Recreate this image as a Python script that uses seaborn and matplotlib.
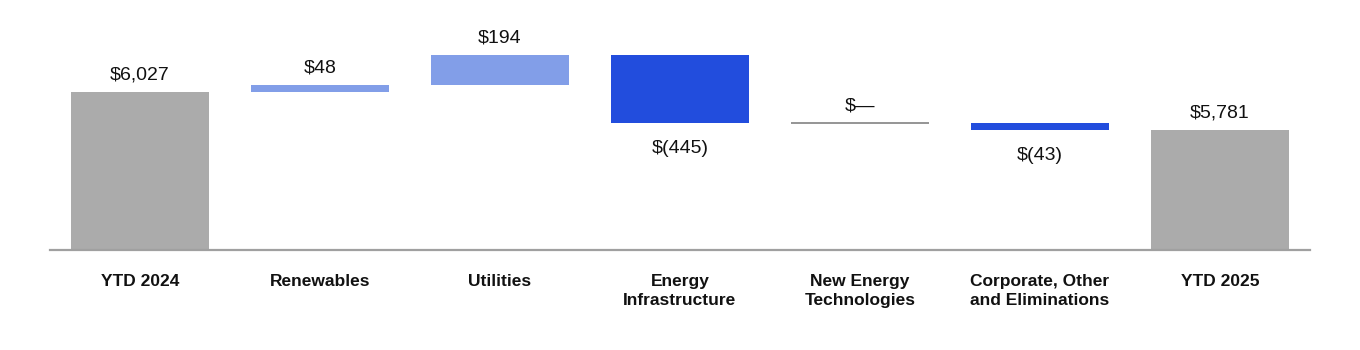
import numpy as np
import pandas as pd
import seaborn as sns
import matplotlib.pyplot as plt

# Waterfall values (millions)
categories = ['YTD 2024', 'Renewables', 'Utilities', 'Energy\nInfrastructure',
              'New Energy\nTechnologies', 'Corporate, Other\nand Eliminations', 'YTD 2025']
values = [6027, 48, 194, -445, 0, -43, 5781]
is_total = [True, False, False, False, False, False, True]
labels = ['$6,027', '$48', '$194', '$(445)', '$—', '$(43)', '$5,781']

GRAY = '#ababab'
UP = '#829ee8'
DOWN = '#224ddd'

# Work out where each bar starts and ends
starts, ends = [], []
level = 0
for v, tot in zip(values, is_total):
    if tot:
        starts.append(0)
        ends.append(v)
        level = v
    else:
        starts.append(level)
        level = level + v
        ends.append(level)

bottoms = [min(s, e) for s, e in zip(starts, ends)]
heights = [abs(e - s) for s, e in zip(starts, ends)]
colors = [GRAY if t else (UP if v > 0 else DOWN) for v, t in zip(values, is_total)]

df = pd.DataFrame({'category': categories, 'height': heights})

sns.set_style('white')
plt.rcParams['font.family'] = ['Liberation Sans', 'DejaVu Sans']

fig = plt.figure(figsize=(13.6, 3.5), dpi=100)
ax = fig.add_axes([50 / 1360, 100 / 350, 1260 / 1360, 230 / 350])

sns.barplot(data=df, x='category', y='height', color=GRAY, width=0.767,
            linewidth=0, ax=ax)

bar_w = 0.767
for i, (patch, b, c) in enumerate(zip(ax.patches, bottoms, colors)):
    patch.set_y(b)
    patch.set_facecolor(c)
    if heights[i] == 0:
        ax.hlines(b, i - bar_w / 2, i + bar_w / 2, color='#8c8c8c', lw=1.3)

ax.set_ylim(5000, 6495)
ax.set_xlim(-0.5, len(categories) - 0.5)

# value labels
for i, (v, lab) in enumerate(zip(values, labels)):
    top = max(starts[i], ends[i])
    bot = min(starts[i], ends[i])
    if v >= 0:
        ax.annotate(lab, (i, top), xytext=(0, 6), textcoords='offset points',
                    ha='center', va='bottom', fontsize=14, color='#111111')
    else:
        ax.annotate(lab, (i, bot), xytext=(0, -12), textcoords='offset points',
                    ha='center', va='top', fontsize=14, color='#111111')

sns.despine(ax=ax, left=True)
ax.spines['bottom'].set_color('#a0a0a0')
ax.spines['bottom'].set_linewidth(1.6)
ax.set_yticks([])
ax.set_xlabel('')
ax.set_ylabel('')
ax.tick_params(axis='x', length=0, pad=17)
for t in ax.get_xticklabels():
    t.set_fontweight('bold')
    t.set_fontsize(12.5)
    t.set_color('#111111')
    t.set_linespacing(1.35)
    t.set_verticalalignment('top')

fig.savefig('out.png', dpi=100, facecolor='white')
